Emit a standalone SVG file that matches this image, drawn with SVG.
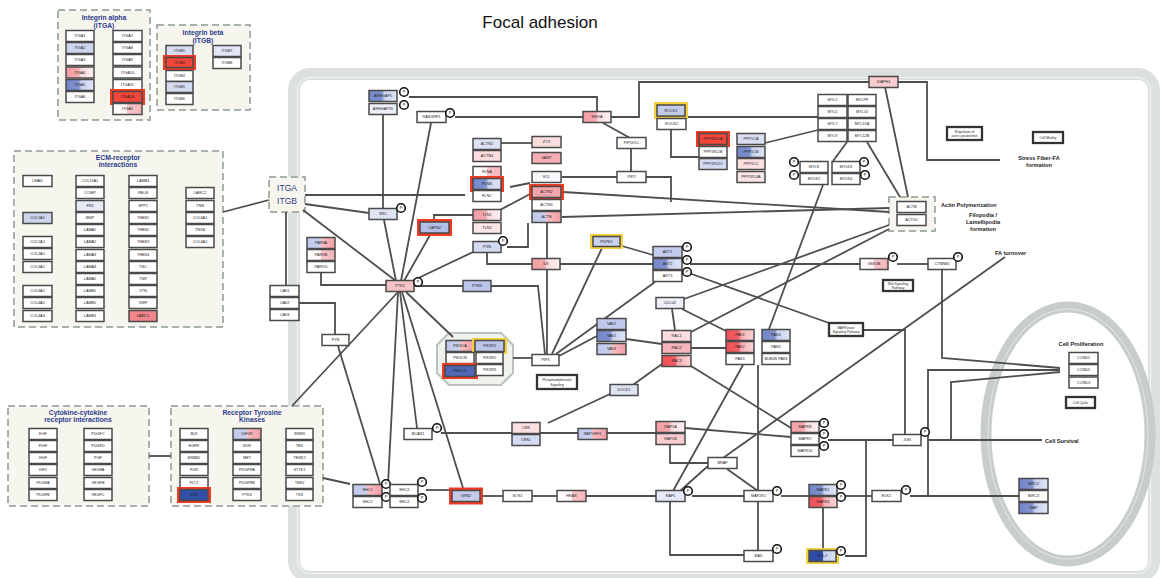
<svg xmlns="http://www.w3.org/2000/svg" width="1164" height="578" viewBox="0 0 1164 578">
<style>
.title{font:17px "Liberation Sans",Arial,sans-serif;fill:#111;text-anchor:middle}
.grp{fill:#f6f6ef;stroke:#a8b2ac;stroke-width:2;stroke-dasharray:7 4}
.gt{font:bold 6.8px "Liberation Sans",Arial,sans-serif;fill:#2d3a8c;text-anchor:middle}
.n rect{fill:#fff;stroke:#4a4a4a;stroke-width:1.5}
.n text{font:3.8px "Liberation Sans",Arial,sans-serif;fill:#222;text-anchor:middle}
.pw rect{fill:#fff;stroke:#333;stroke-width:2.3}
.pw text{font:3.3px "Liberation Sans",Arial,sans-serif;fill:#222;text-anchor:middle}
.n .hr{fill:#f23b22;stroke:#f23b22;stroke-width:1}
.n .hy{fill:#f4d03f;stroke:#f4d03f;stroke-width:1}
.lbl{font:bold 5.6px "Liberation Sans",Arial,sans-serif;fill:#222}
.lblc{font:bold 5.6px "Liberation Sans",Arial,sans-serif;fill:#222;text-anchor:middle}
.c path{fill:none;stroke:#4e4e4e;stroke-width:1.8}
.itg{font:8.5px "Liberation Sans",Arial,sans-serif;fill:#2d3a8c;text-anchor:middle}
</style>
<defs>
<linearGradient id="B"><stop offset="0" stop-color="#7386ca"/><stop offset=".45" stop-color="#7f91cf"/><stop offset=".55" stop-color="#c9d1ee"/><stop offset="1" stop-color="#dfe4f5"/></linearGradient>
<linearGradient id="DB"><stop offset="0" stop-color="#2b4aa3"/><stop offset=".5" stop-color="#2f4ea6"/><stop offset=".5" stop-color="#c3cced"/><stop offset="1" stop-color="#dce2f5"/></linearGradient>
<linearGradient id="P"><stop offset="0" stop-color="#f39ea4"/><stop offset=".45" stop-color="#f4a9ae"/><stop offset=".55" stop-color="#fbdcdf"/><stop offset="1" stop-color="#fff0f1"/></linearGradient>
<linearGradient id="R"><stop offset="0" stop-color="#ef4f55"/><stop offset=".45" stop-color="#f16066"/><stop offset=".55" stop-color="#f6b0b3"/><stop offset="1" stop-color="#fbd3d5"/></linearGradient>
<linearGradient id="BP"><stop offset="0" stop-color="#bfc9ec"/><stop offset=".5" stop-color="#c9d1ee"/><stop offset=".5" stop-color="#f7c0c5"/><stop offset="1" stop-color="#f39ea4"/></linearGradient>
<linearGradient id="WP"><stop offset="0" stop-color="#ffffff"/><stop offset=".5" stop-color="#fff4f5"/><stop offset=".5" stop-color="#f8c6ca"/><stop offset="1" stop-color="#f6b5ba"/></linearGradient>
<g id="Pc"><circle r="4.3" fill="#fff" stroke="#111" stroke-width="1.6"/><text y="1.4" style="font:4px 'Liberation Sans',Arial,sans-serif;text-anchor:middle;fill:#111">P</text></g>
</defs>
<rect width="1164" height="578" fill="#fff"/>
<text class="title" x="540" y="28">Focal adhesion</text>

<!-- cell outline and nucleus -->
<g id="cell-membrane">
<rect x="294" y="74" width="860" height="503" rx="16" fill="none" stroke="#dce1e0" stroke-width="12"/>
<rect x="297.5" y="77.5" width="853" height="496" rx="13" fill="none" stroke="#f3f5f5" stroke-width="1.2"/>
</g>
<g id="nucleus">
<ellipse cx="1068" cy="434" rx="82" ry="127" fill="none" stroke="#c6cdcb" stroke-width="11"/>
<ellipse cx="1068" cy="434" rx="80" ry="125" fill="none" stroke="#e9edec" stroke-width="0.8"/>
</g>

<!-- gene groups -->
<g id="grp-itga"><rect class="grp" x="58" y="10" width="92" height="110"/><text class="gt" x="104" y="20">Integrin alpha</text><text class="gt" x="104" y="28">(ITGA)</text></g>
<g id="grp-itgb"><rect class="grp" x="157" y="25" width="93" height="85"/><text class="gt" x="203" y="35">Integrin beta</text><text class="gt" x="203" y="42.5">(ITGB)</text></g>
<g id="grp-ecm"><rect class="grp" x="14" y="151" width="209" height="176"/><text class="gt" x="118" y="159.5">ECM-receptor</text><text class="gt" x="118" y="167">interactions</text></g>
<g id="grp-cytokine"><rect class="grp" x="8" y="406" width="141" height="100"/><text class="gt" x="78" y="414.5">Cytokine-cytokine</text><text class="gt" x="78" y="422">receptor interactions</text></g>
<g id="grp-rtk"><rect class="grp" x="171" y="406" width="152" height="100"/><text class="gt" x="252" y="414.5">Receptor Tyrosine</text><text class="gt" x="252" y="422">Kinases</text></g>
<g id="grp-itg"><rect class="grp" x="269" y="177" width="36" height="35"/><text class="itg" x="287" y="191">ITGA</text><text class="itg" x="287" y="204">ITGB</text></g>
<g id="grp-actin"><rect class="grp" x="889" y="197" width="46" height="34"/></g>
<g id="grp-pi3k"><polygon points="449,333 501,333 513,345 513,373 501,385 449,385 437,373 437,345" fill="#f0f2ee" stroke="#b9c2bb" stroke-width="2"/></g>

<!-- connectors -->
<g id="connectors" class="c">
<path d="M223,212 L269,200"/>
<path d="M149,456 L171,456"/>
<path d="M323,478 L350,484"/>
<path d="M292,406 L398,292"/>
<path d="M286,212 L286,286"/>
<path d="M305,195 L465,195"/>
<path d="M305,204 L369,213"/>
<path d="M303,210 L396,281"/>
<path d="M383,115 L383,209"/>
<path d="M409,97 L597,97 L597,112"/>
<path d="M455,117 L583,117"/>
<path d="M431,123 L401,281"/>
<path d="M384,220 L396,281"/>
<path d="M430,235 L404,281"/>
<path d="M434,220 L434,215 L473,215"/>
<path d="M473,252 L410,282"/>
<path d="M321,273 L321,285 L386,285"/>
<path d="M299,303 L335,303 L335,335"/>
<path d="M338,346 L380,484"/>
<path d="M398,292 L388,484"/>
<path d="M400,292 L417,428"/>
<path d="M402,292 L463,488"/>
<path d="M406,292 L453,337"/>
<path d="M414,286 L463,286"/>
<path d="M491,286 L538,286 L545,354"/>
<path d="M513,358 L532,358"/>
<path d="M547,354 L547,269"/>
<path d="M487,253 L487,264 L532,264"/>
<path d="M547,258 L547,222"/>
<path d="M560,264 L653,264"/>
<path d="M690,264 L860,264"/>
<path d="M552,354 L602,248"/>
<path d="M556,354 L655,282"/>
<path d="M559,356 L597,336"/>
<path d="M622,246 L653,255"/>
<path d="M626,339 L662,344"/>
<path d="M501,143 L532,143"/>
<path d="M510,187 L530,183"/>
<path d="M498,211 L530,194"/>
<path d="M507,247 L528,247 L528,223"/>
<path d="M562,177 L617,177"/>
<path d="M563,192 L889,212"/>
<path d="M562,217 L889,208"/>
<path d="M646,177 L671,177 L671,202"/>
<path d="M603,123 L630,138"/>
<path d="M631,149 L631,172"/>
<path d="M611,117 L639,117 L639,82 L869,82"/>
<path d="M898,82 L927,82 L927,160 L1000,160"/>
<path d="M885,87 L908,197"/>
<path d="M687,117 L818,117"/>
<path d="M671,129 L671,157 L699,157"/>
<path d="M765,143 L818,130"/>
<path d="M847,142 L833,161"/>
<path d="M867,142 L900,197"/>
<path d="M823,185 L769,329"/>
<path d="M684,299 L889,225"/>
<path d="M691,332 L889,229"/>
<path d="M672,309 L675,330"/>
<path d="M682,309 L726,331"/>
<path d="M691,348 L726,348"/>
<path d="M630,387 L662,364"/>
<path d="M548,423 L610,394"/>
<path d="M686,272 L829,323"/>
<path d="M863,330 L905,330 L905,434"/>
<path d="M897,264 L928,264"/>
<path d="M942,269 L942,358 L1060,368"/>
<path d="M928,496 L928,370 L1060,370"/>
<path d="M951,440 L951,382 L1060,372"/>
<path d="M723,458 L1005,257"/>
<path d="M441,433 L512,433"/>
<path d="M540,433 L578,433"/>
<path d="M607,433 L656,433"/>
<path d="M685,428 L791,437"/>
<path d="M670,445 L670,463 L708,463"/>
<path d="M727,469 L758,491"/>
<path d="M708,466 L680,491"/>
<path d="M743,365 L673,491"/>
<path d="M691,366 L791,428"/>
<path d="M758,365 L758,551"/>
<path d="M426,490 L450,490"/>
<path d="M482,496 L503,496"/>
<path d="M532,496 L557,496"/>
<path d="M586,496 L656,496"/>
<path d="M692,496 L744,496"/>
<path d="M781,496 L809,496"/>
<path d="M845,496 L872,496"/>
<path d="M910,496 L1019,496"/>
<path d="M670,502 L670,555 L744,555"/>
<path d="M823,508 L823,549"/>
<path d="M845,556 L866,556 L866,440"/>
<path d="M828,440 L893,440"/>
<path d="M929,440 L1042,440"/>
</g>

<!-- Integrin alpha -->
<g id="itga1" class="n"><rect x="66" y="30.5" width="28" height="11"/><text x="80" y="37.3">ITGA1</text></g>
<g id="itga2" class="n"><rect x="66" y="42.5" width="28" height="11" style="fill:#cdd5ee"/><text x="80" y="49.3">ITGA2</text></g>
<g id="itga3" class="n"><rect x="66" y="54.5" width="28" height="11"/><text x="80" y="61.3">ITGA3</text></g>
<g id="itga4" class="n"><rect x="66" y="67" width="28" height="11" style="fill:url(#P)"/><text x="80" y="73.8">ITGA4</text></g>
<g id="itga5" class="n"><rect x="66" y="79.5" width="28" height="11" style="fill:url(#B)"/><text x="80" y="86.3">ITGA5</text></g>
<g id="itga6" class="n"><rect x="66" y="91.5" width="28" height="11"/><text x="80" y="98.3">ITGA6</text></g>
<g id="itga7" class="n"><rect x="113" y="30.5" width="29" height="11"/><text x="127.5" y="37.3">ITGA7</text></g>
<g id="itga8" class="n"><rect x="113" y="42.5" width="29" height="11"/><text x="127.5" y="49.3">ITGA8</text></g>
<g id="itga9" class="n"><rect x="113" y="54.5" width="29" height="11"/><text x="127.5" y="61.3">ITGA9</text></g>
<g id="itga10" class="n"><rect x="113" y="67" width="29" height="11"/><text x="127.5" y="73.8">ITGA10</text></g>
<g id="itga11" class="n"><rect x="113" y="79.5" width="29" height="11"/><text x="127.5" y="86.3">ITGA11</text></g>
<g id="itga2b" class="n"><rect class="hr" x="110.5" y="89.5" width="34" height="15"/><rect x="113" y="91.5" width="29" height="11" style="fill:#f2473a"/><text x="127.5" y="98.3">ITGA2B</text></g>
<g id="itgav" class="n"><rect x="113" y="103.5" width="29" height="11" style="fill:url(#WP)"/><text x="127.5" y="110.3">ITGAV</text></g>

<!-- Integrin beta -->
<g id="itgb1" class="n"><rect x="166" y="45.5" width="27" height="11" style="fill:#d6dcf2"/><text x="179.5" y="52.3">ITGB1</text></g>
<g id="itgb3" class="n"><rect class="hr" x="163.5" y="55.5" width="32" height="14"/><rect x="166" y="57.5" width="27" height="10" style="fill:#f2473a"/><text x="179.5" y="63.8">ITGB3</text></g>
<g id="itgb4" class="n"><rect x="166" y="70.5" width="27" height="11"/><text x="179.5" y="77.3">ITGB4</text></g>
<g id="itgb5" class="n"><rect x="166" y="81.5" width="27" height="11" style="fill:#d3daf1"/><text x="179.5" y="88.3">ITGB5</text></g>
<g id="itgb6" class="n"><rect x="166" y="93.5" width="27" height="11"/><text x="179.5" y="100.3">ITGB6</text></g>
<g id="itgb7" class="n"><rect x="213" y="45.5" width="28" height="11" style="fill:#e2e6f5"/><text x="227" y="52.3">ITGB7</text></g>
<g id="itgb8" class="n"><rect x="213" y="57.5" width="28" height="11"/><text x="227" y="64.3">ITGB8</text></g>

<!-- ECM-receptor interactions -->
<g id="chad" class="n"><rect x="23" y="175.5" width="29" height="11"/><text x="37.5" y="182.3">CHAD</text></g>
<g id="col1a1" class="n"><rect x="23" y="212.5" width="29" height="11" style="fill:#cdd5ee"/><text x="37.5" y="219.3">COL1A1</text></g>
<g id="col1a2" class="n"><rect x="23" y="236.5" width="29" height="11"/><text x="37.5" y="243.3">COL1A2</text></g>
<g id="col2a1" class="n"><rect x="23" y="248.5" width="29" height="11"/><text x="37.5" y="255.3">COL2A1</text></g>
<g id="col3a1" class="n"><rect x="23" y="261.5" width="29" height="11"/><text x="37.5" y="268.3">COL3A1</text></g>
<g id="col4a1" class="n"><rect x="23" y="285.5" width="29" height="11"/><text x="37.5" y="292.3">COL4A1</text></g>
<g id="col4a2" class="n"><rect x="23" y="297.5" width="29" height="11"/><text x="37.5" y="304.3">COL4A2</text></g>
<g id="col4a4" class="n"><rect x="23" y="310.5" width="29" height="11"/><text x="37.5" y="317.3">COL4A4</text></g>
<g id="col11a1" class="n"><rect x="76" y="175.5" width="28" height="11"/><text x="90" y="182.3">COL11A1</text></g>
<g id="comp" class="n"><rect x="76" y="187.5" width="28" height="11"/><text x="90" y="194.3">COMP</text></g>
<g id="fn1" class="n"><rect x="76" y="200.5" width="28" height="11" style="fill:#e6e9f7"/><text x="90" y="207.3">FN1</text></g>
<g id="ibsp" class="n"><rect x="76" y="212.5" width="28" height="11"/><text x="90" y="219.3">IBSP</text></g>
<g id="lama1" class="n"><rect x="76" y="224.5" width="28" height="11"/><text x="90" y="231.3">LAMA1</text></g>
<g id="lama2" class="n"><rect x="76" y="236.5" width="28" height="11"/><text x="90" y="243.3">LAMA2</text></g>
<g id="lama3" class="n"><rect x="76" y="249.5" width="28" height="11"/><text x="90" y="256.3">LAMA3</text></g>
<g id="lama4" class="n"><rect x="76" y="261.5" width="28" height="11"/><text x="90" y="268.3">LAMA4</text></g>
<g id="lama5" class="n"><rect x="76" y="273.5" width="28" height="11"/><text x="90" y="280.3">LAMA5</text></g>
<g id="lamb1" class="n"><rect x="76" y="285.5" width="28" height="11"/><text x="90" y="292.3">LAMB1</text></g>
<g id="lamb2" class="n"><rect x="76" y="297.5" width="28" height="11"/><text x="90" y="304.3">LAMB2</text></g>
<g id="lamb3" class="n"><rect x="76" y="310.5" width="28" height="11"/><text x="90" y="317.3">LAMB3</text></g>
<g id="lamb4" class="n"><rect x="129" y="175.5" width="28" height="11"/><text x="143" y="182.3">LAMB4</text></g>
<g id="reln" class="n"><rect x="129" y="187.5" width="28" height="11"/><text x="143" y="194.3">RELN</text></g>
<g id="spp1" class="n"><rect x="129" y="200.5" width="28" height="11"/><text x="143" y="207.3">SPP1</text></g>
<g id="thbs1" class="n"><rect x="129" y="212.5" width="28" height="11"/><text x="143" y="219.3">THBS1</text></g>
<g id="thbs2" class="n"><rect x="129" y="224.5" width="28" height="11"/><text x="143" y="231.3">THBS2</text></g>
<g id="thbs3" class="n"><rect x="129" y="236.5" width="28" height="11"/><text x="143" y="243.3">THBS3</text></g>
<g id="thbs4" class="n"><rect x="129" y="249.5" width="28" height="11"/><text x="143" y="256.3">THBS4</text></g>
<g id="tnc" class="n"><rect x="129" y="261.5" width="28" height="11"/><text x="143" y="268.3">TNC</text></g>
<g id="tnr" class="n"><rect x="129" y="273.5" width="28" height="11"/><text x="143" y="280.3">TNR</text></g>
<g id="vtn" class="n"><rect x="129" y="285.5" width="28" height="11"/><text x="143" y="292.3">VTN</text></g>
<g id="vwf" class="n"><rect x="129" y="297.5" width="28" height="11"/><text x="143" y="304.3">VWF</text></g>
<g id="lamc1" class="n"><rect x="129" y="310.5" width="28" height="11" style="fill:#f0868b"/><text x="143" y="317.3">LAMC1</text></g>
<g id="lamc2" class="n"><rect x="186" y="187.5" width="28" height="11"/><text x="200" y="194.3">LAMC2</text></g>
<g id="tnn" class="n"><rect x="186" y="200.5" width="28" height="11"/><text x="200" y="207.3">TNN</text></g>
<g id="col6a1" class="n"><rect x="186" y="212.5" width="28" height="11"/><text x="200" y="219.3">COL6A1</text></g>
<g id="tnxb" class="n"><rect x="186" y="224.5" width="28" height="11"/><text x="200" y="231.3">TNXB</text></g>
<g id="col6a2" class="n"><rect x="186" y="236.5" width="28" height="11"/><text x="200" y="243.3">COL6A2</text></g>

<!-- Cytokine-cytokine receptor interactions -->
<g id="egf" class="n"><rect x="29" y="428.5" width="28" height="11"/><text x="43" y="435.3">EGF</text></g>
<g id="figf" class="n"><rect x="29" y="440.5" width="28" height="11"/><text x="43" y="447.3">FIGF</text></g>
<g id="hgf" class="n"><rect x="29" y="452.5" width="28" height="11"/><text x="43" y="459.3">HGF</text></g>
<g id="igf1" class="n"><rect x="29" y="464.5" width="28" height="11"/><text x="43" y="471.3">IGF1</text></g>
<g id="pdgfa" class="n"><rect x="29" y="477.5" width="28" height="11"/><text x="43" y="484.3">PDGFA</text></g>
<g id="pdgfb" class="n"><rect x="29" y="489.5" width="28" height="11"/><text x="43" y="496.3">PDGFB</text></g>
<g id="pdgfc" class="n"><rect x="84" y="428.5" width="28" height="11"/><text x="98" y="435.3">PDGFC</text></g>
<g id="pdgfd" class="n"><rect x="84" y="440.5" width="28" height="11"/><text x="98" y="447.3">PDGFD</text></g>
<g id="pgf" class="n"><rect x="84" y="452.5" width="28" height="11"/><text x="98" y="459.3">PGF</text></g>
<g id="vegfa" class="n"><rect x="84" y="464.5" width="28" height="11"/><text x="98" y="471.3">VEGFA</text></g>
<g id="vegfb" class="n"><rect x="84" y="477.5" width="28" height="11"/><text x="98" y="484.3">VEGFB</text></g>
<g id="vegfc" class="n"><rect x="84" y="489.5" width="28" height="11"/><text x="98" y="496.3">VEGFC</text></g>

<!-- Receptor tyrosine kinases -->
<g id="blk" class="n"><rect x="180" y="428.5" width="28" height="11"/><text x="194" y="435.3">BLK</text></g>
<g id="egfr" class="n"><rect x="180" y="440.5" width="28" height="11"/><text x="194" y="447.3">EGFR</text></g>
<g id="erbb2" class="n"><rect x="180" y="452.5" width="28" height="11"/><text x="194" y="459.3">ERBB2</text></g>
<g id="fgr" class="n"><rect x="180" y="464.5" width="28" height="11"/><text x="194" y="471.3">FGR</text></g>
<g id="flt1" class="n"><rect x="180" y="477.5" width="28" height="11"/><text x="194" y="484.3">FLT1</text></g>
<g id="hck" class="n"><rect class="hr" x="177.5" y="487.5" width="33" height="15"/><rect x="180" y="489.5" width="28" height="11" style="fill:#2f4fa8"/><text x="194" y="496.3">HCK</text></g>
<g id="igf1r" class="n"><rect x="233" y="428.5" width="28" height="11" style="fill:url(#BP)"/><text x="247" y="435.3">IGF1R</text></g>
<g id="kdr" class="n"><rect x="233" y="440.5" width="28" height="11"/><text x="247" y="447.3">KDR</text></g>
<g id="met" class="n"><rect x="233" y="452.5" width="28" height="11"/><text x="247" y="459.3">MET</text></g>
<g id="pdgfra" class="n"><rect x="233" y="464.5" width="28" height="11"/><text x="247" y="471.3">PDGFRA</text></g>
<g id="pdgfrb" class="n"><rect x="233" y="477.5" width="28" height="11"/><text x="247" y="484.3">PDGFRB</text></g>
<g id="ptk6" class="n"><rect x="233" y="489.5" width="28" height="11"/><text x="247" y="496.3">PTK6</text></g>
<g id="srms" class="n"><rect x="286" y="428.5" width="27" height="11"/><text x="299.5" y="435.3">SRMS</text></g>
<g id="tek" class="n"><rect x="286" y="440.5" width="27" height="11"/><text x="299.5" y="447.3">TEK</text></g>
<g id="tesk2" class="n"><rect x="286" y="452.5" width="27" height="11"/><text x="299.5" y="459.3">TESK2</text></g>
<g id="styk1" class="n"><rect x="286" y="464.5" width="27" height="11"/><text x="299.5" y="471.3">STYK1</text></g>
<g id="tnk2" class="n"><rect x="286" y="477.5" width="27" height="11"/><text x="299.5" y="484.3">TNK2</text></g>
<g id="txk" class="n"><rect x="286" y="489.5" width="27" height="11"/><text x="299.5" y="496.3">TXK</text></g>

<!-- membrane-proximal complex -->
<g id="arhgap5" class="n"><rect x="369" y="90.5" width="28" height="11" style="fill:url(#B)"/><text x="383" y="97.3">ARHGAP5</text><use href="#Pc" x="404" y="92"/></g>
<g id="arhgap35" class="n"><rect x="369" y="103.5" width="28" height="11" style="fill:#eef0f9"/><text x="383" y="110.3">ARHGAP35</text><use href="#Pc" x="404" y="105"/></g>
<g id="rasgrf1" class="n"><rect x="417" y="111.5" width="29" height="11"/><text x="431.5" y="118.3">RASGRF1</text><use href="#Pc" x="450" y="113"/></g>
<g id="src" class="n"><rect x="369" y="208.5" width="28" height="11" style="fill:#dfe4f5"/><text x="383" y="215.3">SRC</text><use href="#Pc" x="401" y="208"/></g>
<g id="capn2" class="n"><rect class="hr" x="417.5" y="219.5" width="34" height="16"/><rect x="420" y="222" width="29" height="11" style="fill:#b4bfe6"/><text x="434.5" y="228.8">CAPN2</text></g>
<g id="actn1" class="n"><rect x="473" y="138.5" width="28" height="11" style="fill:#dde2f4"/><text x="487" y="145.3">ACTN1</text></g>
<g id="actn4" class="n"><rect x="473" y="150.5" width="28" height="11" style="fill:#fbdcdf"/><text x="487" y="157.3">ACTN4</text></g>
<g id="flna" class="n"><rect x="473" y="166.5" width="28" height="11" style="fill:url(#WP)"/><text x="487" y="173.3">FLNA</text></g>
<g id="flnb" class="n"><rect class="hr" x="470.5" y="176.5" width="33" height="15"/><rect x="473" y="178.5" width="28" height="11" style="fill:url(#B)"/><text x="487" y="185.3">FLNB</text></g>
<g id="flnc" class="n"><rect x="473" y="190.5" width="28" height="11"/><text x="487" y="197.3">FLNC</text></g>
<g id="tln1" class="n"><rect x="473" y="209.5" width="28" height="11" style="fill:url(#P)"/><text x="487" y="216.3">TLN1</text></g>
<g id="tln2" class="n"><rect x="473" y="222.5" width="28" height="11" style="fill:#fde6e8"/><text x="487" y="229.3">TLN2</text></g>
<g id="pxn" class="n"><rect x="473" y="241.5" width="28" height="11" style="fill:#d3daf1"/><text x="487" y="248.3">PXN</text><use href="#Pc" x="503" y="241"/></g>
<g id="zyx" class="n"><rect x="532" y="136.5" width="29" height="11" style="fill:#fbdcdf"/><text x="546.5" y="143.3">ZYX</text></g>
<g id="vasp" class="n"><rect x="532" y="152.5" width="29" height="11" style="fill:#f4aeb3"/><text x="546.5" y="159.3">VASP</text></g>
<g id="vcl" class="n"><rect x="532" y="171.5" width="29" height="11" style="fill:#f7f8fc"/><text x="546.5" y="178.3">VCL</text></g>
<g id="actn2" class="n"><rect class="hr" x="529.5" y="184.5" width="34" height="15"/><rect x="532" y="186.5" width="29" height="11" style="fill:#f5a5ab"/><text x="546.5" y="193.3">ACTN2</text></g>
<g id="actn3" class="n"><rect x="532" y="199.5" width="29" height="11"/><text x="546.5" y="206.3">ACTN3</text></g>
<g id="actb-l" class="n"><rect x="532" y="211.5" width="29" height="11" style="fill:url(#BP)"/><text x="546.5" y="218.3">ACTB</text></g>
<g id="ilk" class="n"><rect x="532" y="258.5" width="28" height="11" style="fill:url(#P)"/><text x="546" y="265.3">ILK</text></g>
<g id="parva" class="n"><rect x="307" y="237.5" width="28" height="11" style="fill:url(#BP)"/><text x="321" y="244.3">PARVA</text></g>
<g id="parvb" class="n"><rect x="307" y="249.5" width="28" height="11" style="fill:url(#WP)"/><text x="321" y="256.3">PARVB</text></g>
<g id="parvg" class="n"><rect x="307" y="261.5" width="28" height="11"/><text x="321" y="268.3">PARVG</text></g>
<g id="cav1" class="n"><rect x="270" y="285.5" width="29" height="11"/><text x="284.5" y="292.3">CAV1</text></g>
<g id="cav2" class="n"><rect x="270" y="297.5" width="29" height="11"/><text x="284.5" y="304.3">CAV2</text></g>
<g id="cav3" class="n"><rect x="270" y="309.5" width="29" height="11"/><text x="284.5" y="316.3">CAV3</text></g>
<g id="fyn" class="n"><rect x="322" y="334.5" width="27" height="11"/><text x="335.5" y="341.3">FYN</text></g>
<g id="ptk2" class="n"><rect x="386" y="280.5" width="28" height="11" style="fill:#f7c3c7"/><text x="400" y="287.3">PTK2</text><use href="#Pc" x="418" y="282"/></g>
<g id="pten" class="n"><rect x="463" y="280.5" width="28" height="11" style="fill:#bcc6ea"/><text x="477" y="287.3">PTEN</text></g>

<!-- PI3K complex -->
<g id="pik3ca" class="n"><rect x="446" y="340.5" width="28" height="11" style="fill:url(#BP)"/><text x="460" y="347.3">PIK3CA</text></g>
<g id="pik3r1" class="n"><rect class="hy" x="472.5" y="338.5" width="34" height="15"/><rect x="475" y="340.5" width="29" height="11" style="fill:#bcc6ea"/><text x="489.5" y="347.3">PIK3R1</text></g>
<g id="pik3cb" class="n"><rect x="446" y="352.5" width="28" height="11"/><text x="460" y="359.3">PIK3CB</text></g>
<g id="pik3r2" class="n"><rect x="476" y="352.5" width="27" height="11"/><text x="489.5" y="359.3">PIK3R2</text></g>
<g id="pik3cd" class="n"><rect class="hr" x="442.5" y="363.5" width="35" height="15"/><rect x="445" y="365.5" width="30" height="11" style="fill:#4f68b8"/><text x="460" y="372.3">PIK3CD</text></g>
<g id="pik3r3" class="n"><rect x="476" y="364.5" width="27" height="11"/><text x="489.5" y="371.3">PIK3R3</text></g>
<g id="pip3" class="n"><rect x="532" y="354.5" width="27" height="11"/><text x="545.5" y="361.3">PIP3</text></g>
<g id="pi-signaling" class="pw"><rect x="537" y="375" width="40" height="14"/><text x="557" y="381">Phosphatidylinositol</text><text x="557" y="386">Signaling</text></g>

<!-- adaptor / Ras-MAPK cascade -->
<g id="shc1" class="n"><rect x="353" y="484.5" width="29" height="11" style="fill:url(#BP)"/><text x="367.5" y="491.3">SHC1</text><use href="#Pc" x="386" y="484"/></g>
<g id="shc2" class="n"><rect x="353" y="496.5" width="29" height="11"/><text x="367.5" y="503.3">SHC2</text><use href="#Pc" x="386" y="497"/></g>
<g id="shc3" class="n"><rect x="390" y="484.5" width="28" height="11"/><text x="404" y="491.3">SHC3</text><use href="#Pc" x="422" y="482"/></g>
<g id="shc4" class="n"><rect x="390" y="496.5" width="28" height="11"/><text x="404" y="503.3">SHC4</text><use href="#Pc" x="422" y="498"/></g>
<g id="grb2" class="n"><rect class="hr" x="449.5" y="488" width="33" height="16"/><rect x="452" y="490.5" width="28" height="11" style="fill:#c3cced"/><text x="466" y="497.3">GRB2</text></g>
<g id="sos1" class="n"><rect x="503" y="490.5" width="29" height="11"/><text x="517.5" y="497.3">SOS1</text></g>
<g id="hras" class="n"><rect x="557" y="490.5" width="29" height="11" style="fill:url(#WP)"/><text x="571.5" y="497.3">HRAS</text></g>
<g id="bcar1" class="n"><rect x="404" y="428.5" width="28" height="11"/><text x="418" y="435.3">BCAR1</text><use href="#Pc" x="437" y="428"/></g>
<g id="crk" class="n"><rect x="512" y="422.5" width="28" height="11" style="fill:#fbe0e2"/><text x="526" y="429.3">CRK</text></g>
<g id="crkl" class="n"><rect x="512" y="434.5" width="28" height="11" style="fill:#d3daf1"/><text x="526" y="441.3">CRKL</text></g>
<g id="rapgef1" class="n"><rect x="578" y="428.5" width="29" height="11" style="fill:url(#BP)"/><text x="592.5" y="435.3">RAPGEF1</text></g>
<g id="rap1a" class="n"><rect x="656" y="421.5" width="29" height="11" style="fill:url(#P)"/><text x="670.5" y="428.3">RAP1A</text></g>
<g id="rap1b" class="n"><rect x="656" y="433.5" width="29" height="11" style="fill:#f9cdd1"/><text x="670.5" y="440.3">RAP1B</text></g>
<g id="braf" class="n"><rect x="708" y="457.5" width="29" height="11"/><text x="722.5" y="464.3">BRAF</text></g>
<g id="raf1" class="n"><rect x="656" y="490.5" width="29" height="11" style="fill:#e4e8f6"/><text x="670.5" y="497.3">RAF1</text><use href="#Pc" x="688" y="491"/></g>
<g id="map2k1" class="n"><rect x="744" y="490.5" width="29" height="11"/><text x="758.5" y="497.3">MAP2K1</text><use href="#Pc" x="777" y="491"/></g>
<g id="mapk1" class="n"><rect x="809" y="484.5" width="28" height="11" style="fill:url(#B)"/><text x="823" y="491.3">MAPK1</text><use href="#Pc" x="841" y="485"/></g>
<g id="mapk3" class="n"><rect x="809" y="496.5" width="28" height="11" style="fill:url(#R)"/><text x="823" y="503.3">MAPK3</text><use href="#Pc" x="841" y="497"/></g>
<g id="elk1" class="n"><rect x="872" y="490.5" width="29" height="11"/><text x="886.5" y="497.3">ELK1</text><use href="#Pc" x="906" y="490"/></g>
<g id="bad" class="n"><rect x="744" y="550.5" width="29" height="11"/><text x="758.5" y="557.3">BAD</text><use href="#Pc" x="777" y="549"/></g>
<g id="bcl2" class="n"><rect class="hy" x="806.5" y="548.5" width="32" height="15"/><rect x="809" y="550.5" width="27" height="11" style="fill:url(#DB)"/><text x="822.5" y="557.3">BCL2</text><use href="#Pc" x="841" y="551"/></g>
<g id="mapk8" class="n"><rect x="791" y="421.5" width="28" height="11" style="fill:url(#P)"/><text x="805" y="428.3">MAPK8</text><use href="#Pc" x="824" y="423"/></g>
<g id="mapk9" class="n"><rect x="791" y="433.5" width="28" height="11"/><text x="805" y="440.3">MAPK9</text><use href="#Pc" x="824" y="434"/></g>
<g id="mapk10" class="n"><rect x="791" y="445.5" width="28" height="11"/><text x="805" y="452.3">MAPK10</text><use href="#Pc" x="824" y="446"/></g>
<g id="jun" class="n"><rect x="893" y="434.5" width="28" height="11"/><text x="907" y="441.3">JUN</text><use href="#Pc" x="925" y="432"/></g>

<!-- nuclear targets -->
<g id="birc2" class="n"><rect x="1019" y="478.5" width="29" height="11" style="fill:url(#B)"/><text x="1033.5" y="485.3">BIRC2</text></g>
<g id="birc3" class="n"><rect x="1019" y="490.5" width="29" height="11"/><text x="1033.5" y="497.3">BIRC3</text></g>
<g id="xiap" class="n"><rect x="1019" y="502.5" width="29" height="11" style="fill:url(#B)"/><text x="1033.5" y="509.3">XIAP</text></g>
<g id="ccnd1" class="n"><rect x="1069" y="352.5" width="29" height="11"/><text x="1083.5" y="359.3">CCND1</text></g>
<g id="ccnd2" class="n"><rect x="1069" y="364.5" width="29" height="11"/><text x="1083.5" y="371.3">CCND2</text></g>
<g id="ccnd3" class="n"><rect x="1069" y="377" width="29" height="11"/><text x="1083.5" y="383.8">CCND3</text></g>
<g id="cell-cycle" class="pw"><rect x="1066" y="397" width="29" height="11"/><text x="1080.5" y="403.7">Cell Cycle</text></g>

<!-- Rho / actomyosin branch -->
<g id="rhoa" class="n"><rect x="583" y="111.5" width="28" height="11" style="fill:url(#P)"/><text x="597" y="118.3">RHOA</text></g>
<g id="pip5k1c" class="n"><rect x="617" y="137.5" width="29" height="11"/><text x="631.5" y="144.3">PIP5K1C</text></g>
<g id="pip2" class="n"><rect x="617" y="171.5" width="29" height="11"/><text x="631.5" y="178.3">PIP2</text></g>
<g id="rock1" class="n"><rect class="hy" x="654.5" y="102.5" width="33" height="16"/><rect x="657" y="105" width="28" height="11" style="fill:#c3cced"/><text x="671" y="111.8">ROCK1</text></g>
<g id="rock2" class="n"><rect x="657" y="118.5" width="29" height="11"/><text x="671.5" y="125.3">ROCK2</text></g>
<g id="ppp1r12a" class="n"><rect class="hr" x="696.5" y="131.5" width="33" height="15"/><rect x="699" y="133.5" width="28" height="11" style="fill:#f2473a"/><text x="713" y="140.3">PPP1R12A</text></g>
<g id="ppp1r12b" class="n"><rect x="699" y="146.5" width="28" height="11"/><text x="713" y="153.3">PPP1R12B</text></g>
<g id="ppp1r12c" class="n"><rect x="699" y="158.5" width="28" height="11" style="fill:#d3daf1"/><text x="713" y="165.3">PPP1R12C</text></g>
<g id="ppp1ca" class="n"><rect x="737" y="133.5" width="28" height="11" style="fill:#d9def3"/><text x="751" y="140.3">PPP1CA</text></g>
<g id="ppp1cb" class="n"><rect x="737" y="146.5" width="28" height="11" style="fill:url(#B)"/><text x="751" y="153.3">PPP1CB</text></g>
<g id="ppp1cc" class="n"><rect x="737" y="158.5" width="28" height="11" style="fill:#fbe0e2"/><text x="751" y="165.3">PPP1CC</text></g>
<g id="ppp1r14a" class="n"><rect x="737" y="171.5" width="28" height="11" style="fill:#fbe6e8"/><text x="751" y="178.3">PPP1R14A</text></g>
<g id="myl2" class="n"><rect x="818" y="94.5" width="29" height="11"/><text x="832.5" y="101.3">MYL2</text></g>
<g id="myl5" class="n"><rect x="818" y="106.5" width="29" height="11"/><text x="832.5" y="113.3">MYL5</text></g>
<g id="myl7" class="n"><rect x="818" y="118.5" width="29" height="11"/><text x="832.5" y="125.3">MYL7</text></g>
<g id="myl9" class="n"><rect x="818" y="130.5" width="29" height="11"/><text x="832.5" y="137.3">MYL9</text></g>
<g id="mylpf" class="n"><rect x="848" y="94.5" width="28" height="11"/><text x="862" y="101.3">MYLPF</text></g>
<g id="myl10" class="n"><rect x="848" y="106.5" width="28" height="11"/><text x="862" y="113.3">MYL10</text></g>
<g id="myl12a" class="n"><rect x="848" y="118.5" width="28" height="11"/><text x="862" y="125.3">MYL12A</text></g>
<g id="myl12b" class="n"><rect x="848" y="130.5" width="28" height="11"/><text x="862" y="137.3">MYL12B</text></g>
<g id="mylk" class="n"><rect x="800" y="161.5" width="28" height="11"/><text x="814" y="168.3">MYLK</text><use href="#Pc" x="794" y="162"/></g>
<g id="mylk2" class="n"><rect x="800" y="173.5" width="28" height="11"/><text x="814" y="180.3">MYLK2</text><use href="#Pc" x="794" y="175"/></g>
<g id="mylk3" class="n"><rect x="832" y="161.5" width="28" height="11"/><text x="846" y="168.3">MYLK3</text><use href="#Pc" x="864" y="162"/></g>
<g id="mylk4" class="n"><rect x="832" y="173.5" width="28" height="11"/><text x="846" y="180.3">MYLK4</text><use href="#Pc" x="865" y="175"/></g>
<g id="diaph1" class="n"><rect x="869" y="76.5" width="29" height="11" style="fill:#f9ccd0"/><text x="883.5" y="83.3">DIAPH1</text></g>
<g id="actb" class="n"><rect x="897" y="201.5" width="29" height="11"/><text x="911.5" y="208.3">ACTB</text></g>
<g id="actg1" class="n"><rect x="897" y="214.5" width="29" height="11"/><text x="911.5" y="221.3">ACTG1</text></g>
<g id="reg-actin" class="pw"><rect x="947" y="127" width="35" height="13"/><text x="964.5" y="132.5">Regulation of</text><text x="964.5" y="137">actin cytoskeleton</text></g>
<g id="cell-motility" class="pw"><rect x="1033" y="132" width="30" height="11"/><text x="1048" y="138.8">Cell Motility</text></g>

<!-- Akt / Rac branch -->
<g id="pdpk1" class="n"><rect class="hy" x="590.5" y="234.5" width="32" height="14"/><rect x="593" y="236.5" width="27" height="10" style="fill:#c9d1ee"/><text x="606.5" y="242.8">PDPK1</text></g>
<g id="akt1" class="n"><rect x="653" y="246.5" width="29" height="11" style="fill:#c3cced"/><text x="667.5" y="253.3">AKT1</text><use href="#Pc" x="687" y="247"/></g>
<g id="akt2" class="n"><rect x="653" y="258.5" width="29" height="11" style="fill:url(#B)"/><text x="667.5" y="265.3">AKT2</text><use href="#Pc" x="687" y="260"/></g>
<g id="akt3" class="n"><rect x="653" y="270.5" width="29" height="11"/><text x="667.5" y="277.3">AKT3</text><use href="#Pc" x="687" y="272"/></g>
<g id="cdc42" class="n"><rect x="656" y="297.5" width="28" height="11" style="fill:#eef0f9"/><text x="670" y="304.3">CDC42</text></g>
<g id="vav1" class="n"><rect x="597" y="318.5" width="29" height="11" style="fill:#bfc9ec"/><text x="611.5" y="325.3">VAV1</text></g>
<g id="vav2" class="n"><rect x="597" y="330.5" width="29" height="11" style="fill:url(#B)"/><text x="611.5" y="337.3">VAV2</text></g>
<g id="vav3" class="n"><rect x="597" y="343.5" width="29" height="11" style="fill:url(#BP)"/><text x="611.5" y="350.3">VAV3</text></g>
<g id="dock1" class="n"><rect x="610" y="384.5" width="28" height="11" style="fill:#dfe4f5"/><text x="624" y="391.3">DOCK1</text></g>
<g id="rac1" class="n"><rect x="662" y="330.5" width="29" height="11" style="fill:#fbdcdf"/><text x="676.5" y="337.3">RAC1</text></g>
<g id="rac2" class="n"><rect x="662" y="342.5" width="29" height="11" style="fill:#f6b5ba"/><text x="676.5" y="349.3">RAC2</text></g>
<g id="rac3" class="n"><rect x="662" y="355.5" width="29" height="11" style="fill:url(#R)"/><text x="676.5" y="362.3">RAC3</text></g>
<g id="pak1" class="n"><rect x="726" y="329.5" width="28" height="11" style="fill:url(#R)"/><text x="740" y="336.3">PAK1</text></g>
<g id="pak2" class="n"><rect x="726" y="341.5" width="28" height="11" style="fill:url(#R)"/><text x="740" y="348.3">PAK2</text></g>
<g id="pak3" class="n"><rect x="726" y="353.5" width="28" height="11"/><text x="740" y="360.3">PAK3</text></g>
<g id="pak4" class="n"><rect x="762" y="329.5" width="28" height="11" style="fill:url(#B)"/><text x="776" y="336.3">PAK4</text></g>
<g id="pak6" class="n"><rect x="762" y="341.5" width="28" height="11"/><text x="776" y="348.3">PAK6</text></g>
<g id="bub1b-pak6" class="n"><rect x="762" y="353.5" width="28" height="11"/><text x="776" y="360.3">BUB1B-PAK6</text></g>
<g id="mapk-pathway" class="pw"><rect x="829" y="323" width="34" height="13"/><text x="846" y="328.5">MAPKinase</text><text x="846" y="333">Signaling Pathway</text></g>
<g id="gsk3b" class="n"><rect x="860" y="258.5" width="28" height="11" style="fill:url(#WP)"/><text x="874" y="265.3">GSK3B</text><use href="#Pc" x="893" y="257"/></g>
<g id="ctnnb1" class="n"><rect x="928" y="258.5" width="28" height="11"/><text x="942" y="265.3">CTNNB1</text><use href="#Pc" x="958" y="257"/></g>
<g id="wnt-pathway" class="pw"><rect x="883" y="280" width="30" height="11"/><text x="898" y="284.8">Wnt Signaling</text><text x="898" y="289">Pathway</text></g>

<!-- process labels -->
<g id="labels">
<text class="lbl" x="941" y="207">Actin Polymerization</text>
<text class="lblc" x="983" y="216.5">Filopodia /</text>
<text class="lblc" x="983" y="223.5">Lamellipodia</text>
<text class="lblc" x="983" y="230.5">formation</text>
<text class="lblc" x="1039" y="159.5">Stress Fiber-FA</text>
<text class="lblc" x="1039" y="166.5">formation</text>
<text class="lbl" x="995" y="254.5">FA turnover</text>
<text class="lblc" x="1081" y="345.5">Cell Proliferation</text>
<text class="lbl" x="1045" y="442.5">Cell Survival</text>
</g>
</svg>
